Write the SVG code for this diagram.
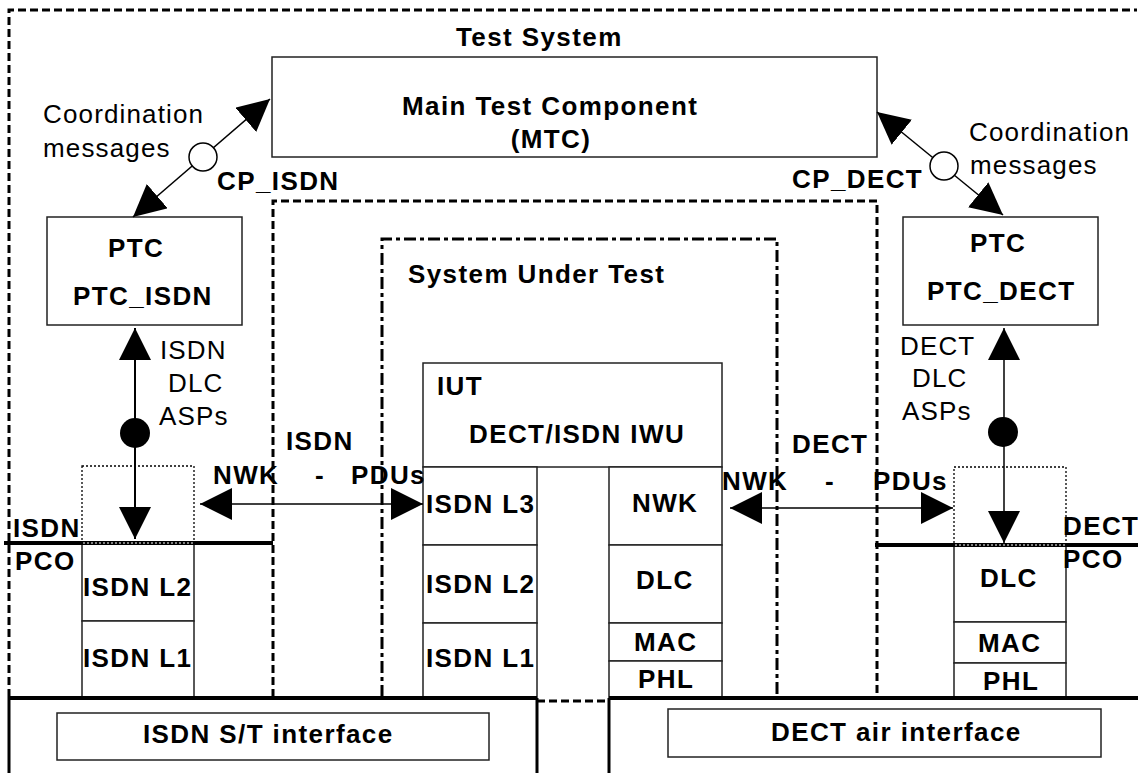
<svg xmlns="http://www.w3.org/2000/svg" width="1138" height="773" viewBox="0 0 1138 773">
<style>
text{font-family:"Liberation Sans",Arial,sans-serif;font-size:26px;fill:#000}
.b{font-weight:bold;letter-spacing:1.4px}
.r{letter-spacing:1.15px}
.box{fill:#fff;stroke:#222;stroke-width:1.5}
.dash{fill:none;stroke:#000;stroke-width:3;stroke-dasharray:8,4}
.dashdot{fill:none;stroke:#000;stroke-width:3;stroke-dasharray:12,4,4,4}
.dot{fill:none;stroke:#000;stroke-width:1.3;stroke-dasharray:2,2}
.thick{fill:none;stroke:#000;stroke-width:4}
.arr{fill:none;stroke:#000;stroke-width:1.5;marker-start:url(#ah);marker-end:url(#ah)}
</style>
<defs>
<marker id="ah" markerUnits="userSpaceOnUse" markerWidth="33" markerHeight="33" refX="32" refY="16" orient="auto-start-reverse" viewBox="0 0 33 33">
<path d="M0,0 L32,16 L0,32 z" fill="#000"/>
</marker>
</defs>
<rect width="1138" height="773" fill="#fff"/>

<g id="test-system-frame">
<path class="dash" d="M9,697 V10 H1137"/>
<text class="b" x="456" y="46">Test System</text>
</g>
<g id="tester-area">
<path class="dash" d="M273,697 V201 H877 V697"/>
</g>
<g id="sut-frame">
<path class="dashdot" d="M382,697 V239 H777 V697"/>
<path class="dash" d="M537,701 H609"/>
<text class="b" x="408" y="283">System Under Test</text>
</g>

<g id="mtc">
<rect class="box" x="272" y="57" width="605" height="100"/>
<text class="b" x="402" y="115">Main Test Component</text>
<text class="b" x="551" y="148" text-anchor="middle">(MTC)</text>
</g>

<g id="ptc-isdn">
<rect class="box" x="47" y="217" width="195" height="108"/>
<text class="b" x="108" y="257">PTC</text>
<text class="b" x="73" y="305">PTC_ISDN</text>
</g>
<g id="ptc-dect">
<rect class="box" x="903" y="217" width="195" height="108"/>
<text class="b" x="970" y="252">PTC</text>
<text class="b" x="927" y="300">PTC_DECT</text>
</g>

<g id="iut">
<rect class="box" x="423" y="363" width="299" height="104"/>
<text class="b" x="437" y="395">IUT</text>
<text class="b" x="469" y="443">DECT/ISDN IWU</text>
<rect class="box" x="423" y="467" width="114" height="78"/>
<rect class="box" x="423" y="545" width="114" height="78"/>
<rect class="box" x="423" y="623" width="114" height="75"/>
<text class="b" x="426" y="513">ISDN L3</text>
<text class="b" x="426" y="593">ISDN L2</text>
<text class="b" x="426" y="667">ISDN L1</text>
<rect class="box" x="609" y="467" width="113" height="78"/>
<rect class="box" x="609" y="545" width="113" height="78"/>
<rect class="box" x="609" y="623" width="113" height="38"/>
<rect class="box" x="609" y="661" width="113" height="37"/>
<text class="b" x="632" y="512">NWK</text>
<text class="b" x="636" y="589">DLC</text>
<text class="b" x="634" y="651">MAC</text>
<text class="b" x="638" y="688">PHL</text>
</g>

<g id="isdn-tester-stack">
<rect class="dot" x="82" y="466" width="112" height="77"/>
<rect class="box" x="82" y="543" width="112" height="78"/>
<rect class="box" x="82" y="621" width="112" height="76"/>
<text class="b" x="83" y="596">ISDN L2</text>
<text class="b" x="83" y="667">ISDN L1</text>
</g>
<g id="dect-tester-stack">
<rect class="dot" x="954" y="467" width="112" height="78"/>
<rect class="box" x="954" y="545" width="112" height="77"/>
<rect class="box" x="954" y="622" width="112" height="41"/>
<rect class="box" x="954" y="663" width="112" height="34"/>
<text class="b" x="980" y="587">DLC</text>
<text class="b" x="978" y="652">MAC</text>
<text class="b" x="983" y="690">PHL</text>
</g>

<g id="isdn-pco">
<path class="thick" d="M4,543 H273"/>
<path d="M83,543 H193" fill="none" stroke="#fff" stroke-width="1" stroke-dasharray="2,2"/>
<text class="b" x="13" y="537">ISDN</text>
<text class="b" x="15" y="570">PCO</text>
</g>
<g id="dect-pco">
<path class="thick" d="M875,545 H1138"/>
<path d="M955,545 H1065" fill="none" stroke="#fff" stroke-width="1" stroke-dasharray="2,2"/>
<text class="b" x="1063" y="535">DECT</text>
<text class="b" x="1063" y="568">PCO</text>
</g>

<g id="isdn-interface">
<path class="thick" d="M9,698 H537"/>
<path fill="none" stroke="#000" stroke-width="3" d="M9,697 V773 M537,698 V773"/>
<rect class="box" x="57" y="713" width="432" height="47"/>
<text class="b" x="143" y="743">ISDN S/T interface</text>
</g>
<g id="dect-interface">
<path class="thick" d="M609,698 H1138"/>
<path fill="none" stroke="#000" stroke-width="3" d="M609,698 V773"/>
<rect class="box" x="668" y="709" width="433" height="48"/>
<text class="b" x="771" y="741">DECT air interface</text>
</g>

<g id="connectors">
<path class="arr" d="M133,217 L270,99"/>
<circle cx="203" cy="157" r="14" fill="#fff" stroke="#000" stroke-width="1.5"/>
<path class="arr" d="M1003,215 L877,112"/>
<circle cx="944" cy="166" r="14" fill="#fff" stroke="#000" stroke-width="1.5"/>
<path class="arr" style="stroke-width:2" d="M135,328 V539"/>
<circle cx="135" cy="433" r="15" fill="#000"/>
<path class="arr" d="M1004,328 V543"/>
<circle cx="1003" cy="432" r="15" fill="#000"/>
<path class="arr" d="M200,504 H423"/>
<path class="arr" d="M730,508 H953"/>
</g>

<g id="labels">
<text class="r" x="43" y="123">Coordination</text>
<text class="r" x="43" y="157">messages</text>
<text class="b" x="217" y="190">CP_ISDN</text>
<text class="r" x="969" y="141">Coordination</text>
<text class="r" x="970" y="174">messages</text>
<text class="b" x="792" y="188">CP_DECT</text>
<text class="r" x="160" y="359">ISDN</text>
<text class="r" x="168" y="392">DLC</text>
<text class="r" x="159" y="425">ASPs</text>
<text class="r" x="900" y="355">DECT</text>
<text class="r" x="912" y="387">DLC</text>
<text class="r" x="902" y="420">ASPs</text>
<text class="b" x="286" y="450">ISDN</text>
<text class="b" y="484"><tspan x="213">NWK</tspan><tspan x="315">-</tspan><tspan x="351">PDUs</tspan></text>
<text class="b" x="792" y="453">DECT</text>
<text class="b" y="490"><tspan x="722">NWK</tspan><tspan x="825">-</tspan><tspan x="873">PDUs</tspan></text>
</g>
</svg>
